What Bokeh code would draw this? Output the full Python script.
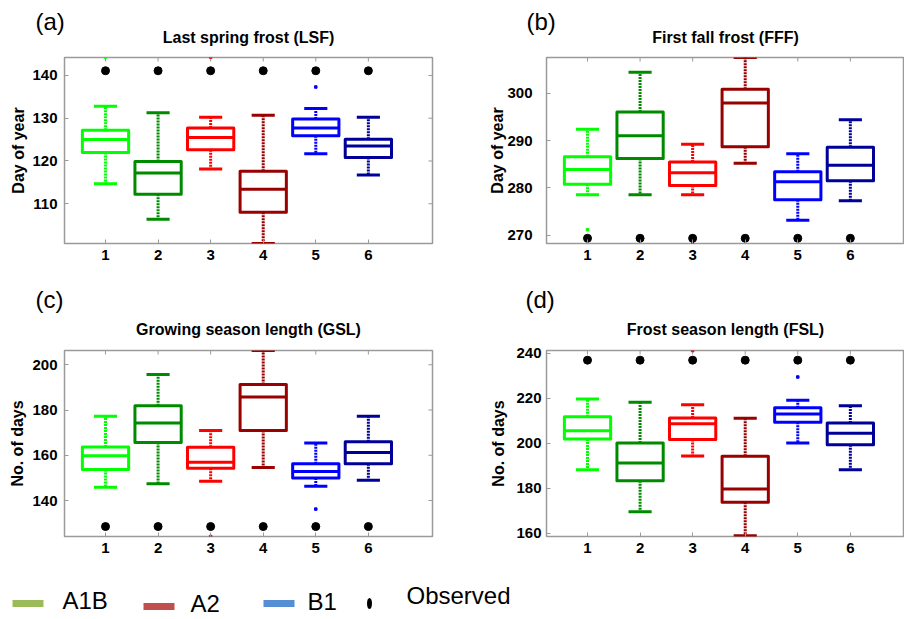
from bokeh.plotting import figure
from bokeh.layouts import column, row
from bokeh.models import Range1d, FixedTicker, Title
from bokeh.embed import file_html
from bokeh.resources import INLINE
from bokeh.core.properties import value

# ---------------- data ----------------
groups = [1, 2, 3, 4, 5, 6]
group_colors = ["#00ff00", "#008a00", "#ff0000", "#990000", "#0000ff", "#000099"]

# (a) Last spring frost
lsf_hi = [132.8, 131.3, 130.2, 130.7, 132.3, 130.2]
lsf_q3 = [127.2, 119.9, 127.7, 117.6, 129.8, 125.1]
lsf_med = [125.0, 117.2, 125.5, 113.4, 127.7, 123.5]
lsf_q1 = [122.0, 112.2, 122.6, 108.0, 125.9, 120.8]
lsf_lo = [114.7, 106.4, 118.1, 100.7, 121.7, 116.7]
lsf_obs = [141.1, 141.1, 141.1, 141.1, 141.1, 141.1]
lsf_out_x = [1, 3, 5]
lsf_out_y = [144.3, 144.3, 137.3]

# (b) First fall frost
fff_hi = [292.4, 304.4, 289.2, 307.5, 287.2, 294.4]
fff_q3 = [286.6, 296.0, 285.5, 300.8, 283.4, 288.6]
fff_med = [283.9, 291.0, 283.2, 297.9, 281.3, 284.8]
fff_q1 = [280.8, 286.2, 280.5, 288.7, 277.5, 281.5]
fff_lo = [278.6, 278.6, 278.6, 285.2, 273.2, 277.3]
fff_obs = [269.4, 269.4, 269.4, 269.4, 269.4, 269.4]
fff_out_x = [1, 3]
fff_out_y = [271.2, 268.2]

# (c) Growing season length
gsl_hi = [177.2, 195.7, 171.0, 206.3, 165.4, 177.2]
gsl_q3 = [163.7, 181.9, 163.5, 191.3, 156.2, 166.0]
gsl_med = [159.8, 174.3, 156.9, 185.7, 152.8, 161.2]
gsl_q1 = [153.7, 165.6, 154.3, 171.0, 149.9, 156.3]
gsl_lo = [145.9, 147.4, 148.5, 154.6, 146.3, 149.0]
gsl_obs = [128.5, 128.5, 128.5, 128.5, 128.5, 128.5]
gsl_out_x = [3, 5]
gsl_out_y = [124.1, 136.2]

# (d) Frost season length
fsl_hi = [219.7, 218.3, 217.2, 211.1, 219.2, 216.7]
fsl_q3 = [211.8, 200.1, 211.2, 194.2, 215.8, 209.0]
fsl_med = [205.6, 191.2, 208.7, 179.6, 213.0, 204.5]
fsl_q1 = [201.9, 183.3, 201.7, 173.8, 209.4, 199.3]
fsl_lo = [188.2, 169.5, 194.3, 158.8, 200.1, 188.2]
fsl_obs = [237.0, 237.0, 237.0, 237.0, 237.0, 237.0]
fsl_out_x = [3, 5]
fsl_out_y = [241.3, 229.5]

titles = ["Last spring frost (LSF)", "First fall frost (FFF)",
          "Growing season length (GSL)", "Frost season length (FSL)"]
tags = ["(a)", "(b)", "(c)", "(d)"]
ylabels = ["Day of year", "Day of year", "No. of days", "No. of days"]
yticks_a = [110, 120, 130, 140]
yticks_b = [270, 280, 290, 300]
yticks_c = [140, 160, 180, 200]
yticks_d = [160, 180, 200, 220, 240]

legend_labels = ["A1B", "A2", "B1", "Observed"]
legend_colors = ["#9bbb59", "#c0504d", "#558ed5"]

FONT = "Liberation Sans"
FRAME = "#9a9a9a"
BOX_W = 0.88
CAP_W = 0.44
TICK_PX = 4


def panel(title, tag, ylabel, hi, q3, med, q1, lo, obs, out_x, out_y,
          yr, yticks, xr, width, height, bl, br, bt, bb,
          ytick_standoff, ylab_standoff, tag_offset, title_standoff, tag_standoff, right_ticks):
    p = figure(width=width, height=height, x_range=Range1d(*xr), y_range=Range1d(*yr),
               output_backend="svg", toolbar_location=None, title=None,
               min_border_left=bl, min_border_right=br, min_border_top=bt, min_border_bottom=bb)
    p.background_fill_color = "white"
    p.border_fill_color = "white"
    p.outline_line_color = FRAME
    p.outline_line_width = 1.5
    p.xgrid.grid_line_color = None
    p.ygrid.grid_line_color = None

    p.add_layout(Title(text=title, align="center", standoff=title_standoff,
                       text_font=FONT, text_font_size="16px", text_font_style="bold",
                       text_color="black"), "above")
    p.add_layout(Title(text=tag, align="left", offset=tag_offset, standoff=tag_standoff,
                       text_font=FONT, text_font_size="24px", text_font_style="normal",
                       text_color="black"), "above")

    for ax in (p.xaxis[0], p.yaxis[0]):
        ax.axis_line_color = None
        ax.major_tick_in = TICK_PX
        ax.major_tick_out = 0
        ax.major_tick_line_color = FRAME
        ax.minor_tick_line_color = None
        ax.major_label_text_font = FONT
        ax.major_label_text_font_size = "15px"
        ax.major_label_text_font_style = "bold"
        ax.major_label_text_color = "black"
    p.xaxis[0].ticker = FixedTicker(ticks=groups)
    p.xaxis[0].major_label_standoff = 6
    p.yaxis[0].ticker = FixedTicker(ticks=yticks)
    p.yaxis[0].major_label_standoff = ytick_standoff
    p.yaxis[0].axis_label = ylabel
    p.yaxis[0].axis_label_text_font = FONT
    p.yaxis[0].axis_label_text_font_size = "16px"
    p.yaxis[0].axis_label_text_font_style = "bold"
    p.yaxis[0].axis_label_text_color = "black"
    p.yaxis[0].axis_label_standoff = ylab_standoff

    # mirrored inward ticks along the top (and right) edges of the frame
    frame_w = width - bl - br
    frame_h = height - bt - bb
    dy = TICK_PX * (yr[1] - yr[0]) / frame_h
    dx = TICK_PX * (xr[1] - xr[0]) / frame_w
    p.segment(x0=groups, y0=[yr[1]] * len(groups), x1=groups, y1=[yr[1] - dy] * len(groups),
              line_color=FRAME, line_width=1)
    if right_ticks:
        p.segment(x0=[xr[1]] * len(yticks), y0=yticks, x1=[xr[1] - dx] * len(yticks), y1=yticks,
                  line_color=FRAME, line_width=1)

    xl = [g - BOX_W / 2 for g in groups]
    xr_ = [g + BOX_W / 2 for g in groups]
    cl = [g - CAP_W / 2 for g in groups]
    cr = [g + CAP_W / 2 for g in groups]

    # whiskers (dotted)
    p.segment(x0=groups, y0=q3, x1=groups, y1=hi, line_color=group_colors,
              line_width=3, line_dash="2 1")
    p.segment(x0=groups, y0=q1, x1=groups, y1=lo, line_color=group_colors,
              line_width=3, line_dash="2 1")
    # caps
    p.segment(x0=cl, y0=hi, x1=cr, y1=hi, line_color=group_colors, line_width=3)
    p.segment(x0=cl, y0=lo, x1=cr, y1=lo, line_color=group_colors, line_width=3)
    # boxes
    p.quad(left=xl, right=xr_, top=q3, bottom=q1, fill_color="white",
           line_color=group_colors, line_width=3, line_join="round")
    # medians
    p.segment(x0=xl, y0=med, x1=xr_, y1=med, line_color=group_colors, line_width=3)
    # outliers
    p.scatter(x=out_x, y=out_y, marker="square", size=2.5,
              color=[group_colors[i - 1] for i in out_x])
    # observed
    p.scatter(x=groups, y=obs, size=8, color="black")
    return p


pa = panel(titles[0], tags[0], ylabels[0], lsf_hi, lsf_q3, lsf_med, lsf_q1, lsf_lo, lsf_obs,
           lsf_out_x, lsf_out_y, (100.7, 144.2), yticks_a, (0.22, 7.22),
           450, 275, 64, 18, 57, 32, 7, 2, -29, 24, -40, True)
pb = panel(titles[1], tags[1], ylabels[1], fff_hi, fff_q3, fff_med, fff_q1, fff_lo, fff_obs,
           fff_out_x, fff_out_y, (268.3, 307.5), yticks_b, (0.22, 7.03),
           454, 275, 96, 0, 57, 32, 14, -2, -20, 24, -40, False)
pc = panel(titles[2], tags[2], ylabels[2], gsl_hi, gsl_q3, gsl_med, gsl_q1, gsl_lo, gsl_obs,
           gsl_out_x, gsl_out_y, (124.1, 206.3), yticks_c, (0.22, 7.22),
           450, 287, 64, 18, 75, 26, 7, 3, -29, 25, -12, True)
pd = panel(titles[3], tags[3], ylabels[3], fsl_hi, fsl_q3, fsl_med, fsl_q1, fsl_lo, fsl_obs,
           fsl_out_x, fsl_out_y, (158.5, 241.3), yticks_d, (0.22, 7.03),
           454, 287, 96, 0, 75, 26, 5, 6, -21, 25, -12, False)

# ---------------- legend strip ----------------
lg = figure(width=904, height=57, x_range=Range1d(0, 904), y_range=Range1d(57, 0),
            output_backend="svg", toolbar_location=None,
            min_border_left=0, min_border_right=0, min_border_top=0, min_border_bottom=0)
lg.axis.visible = False
lg.grid.grid_line_color = None
lg.outline_line_color = None
lg.background_fill_color = "white"
lg.border_fill_color = "white"

line_cx = [27.5, 158.5, 278.5]
line_cy = [41, 44, 41]
lg.rect(x=line_cx, y=line_cy, width=31, height=7, fill_color=legend_colors, line_color=None)
lg.ellipse(x=[369], y=[41], width=5, height=11, fill_color="black", line_color=None)
lg.text(x=[62, 190, 307, 406], y=[38, 41, 39, 33], text=legend_labels,
        text_baseline="middle", text_align="left", text_font=value(FONT),
        text_font_size="24px", text_color="black")

layout = column(row(pa, pb), row(pc, pd), lg)
open("out.html", "w").write(file_html(layout, INLINE))
